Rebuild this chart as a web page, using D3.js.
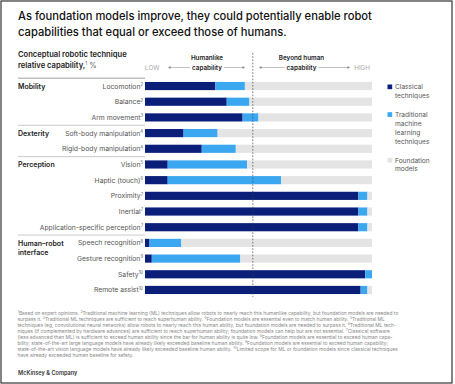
<!DOCTYPE html>
<html>
<head>
<meta charset="utf-8">
<script src="https://cdn.jsdelivr.net/npm/d3@7"></script>
<style>
  body { margin: 0; background: #fff; }
  svg { display: block; font-family: Inter, "Noto Sans", sans-serif; }
</style>
</head>
<body>
<div id="canvas"></div>
<script>
// data (percent of the relative capability scale)
var categories = ['Locomotion', 'Balance', 'Arm movement', 'Soft-body manipulation', 'Rigid-body manipulation',
  'Vision', 'Haptic (touch)', 'Proximity', 'Inertial', 'Application-specific perception',
  'Speech recognition', 'Gesture recognition', 'Safety', 'Remote assist'];
var notes = ['2', '2', '3', '4', '4', '5', '6', '7', '7', '7', '8', '9', '10', '10'];
var groupOf = ['Mobility', 'Mobility', 'Mobility', 'Dexterity', 'Dexterity',
  'Perception', 'Perception', 'Perception', 'Perception', 'Perception',
  'Human\u2013robot interface', 'Human\u2013robot interface', 'Human\u2013robot interface', 'Human\u2013robot interface'];
var classical   = [31, 36, 43, 17, 25, 10, 10, 94, 94, 94, 2, 3, 97, 95];
var traditional = [13, 10, 7, 15, 15, 35, 50, 4, 4, 4, 14, 39, 3, 3];
var foundation  = [56, 54, 50, 68, 60, 55, 40, 2, 2, 2, 84, 58, 0, 2];
var seriesNames = [['Classical', 'techniques'], ['Traditional', 'machine', 'learning', 'techniques'], ['Foundation', 'models']];
var humanLevel = 47.5;

var colors = ['#0b1f7a', '#3aa7f0', '#e4e4e4'];

var W = 455, H = 384;
var svg = d3.select('#canvas').append('svg').attr('width', W).attr('height', H);

svg.append('rect').attr('x', 1).attr('y', 1).attr('width', 451).attr('height', 382)
  .attr('fill', 'none').attr('stroke', '#333').attr('stroke-width', 1.2);

// title
var title = ['As foundation models improve, they could potentially enable robot',
  'capabilities that equal or exceed those of humans.'];
svg.selectAll('.title').data(title).enter().append('text')
  .attr('x', 18).attr('y', function(d, i){ return 20 + i * 15.5; })
  .attr('font-size', 11.2).attr('font-weight', 500).attr('fill', '#111')
  .text(function(d){ return d; });

// scales
var x = d3.scaleLinear().domain([0, 100]).range([145, 372]);
var y = d3.scaleBand().domain(categories).range([78.2, 297.8]).paddingInner(0.48).paddingOuter(0.24);
var step = y.step();
function cy(c){ return y(c) + y.bandwidth() / 2; }

// axis title
var at = svg.append('g').attr('font-size', 7.6).attr('font-weight', 600).attr('fill', '#222');
at.append('text').attr('x', 18).attr('y', 57).text('Conceptual robotic technique');
var t2 = at.append('text').attr('x', 18).attr('y', 67.5);
t2.append('tspan').text('relative capability,');
t2.append('tspan').attr('dy', -2.5).attr('font-size', 4.6).attr('font-weight', 400).attr('fill', '#666').text('1');
t2.append('tspan').attr('dy', 2.5).attr('font-weight', 400).attr('fill', '#666').text(' %');

// capability header
var hd = svg.append('g');
var lowHigh = [{t: 'LOW', x: 145, a: 'start'}, {t: 'HIGH', x: 370, a: 'end'}];
hd.selectAll('.lh').data(lowHigh).enter().append('text')
  .attr('x', function(d){ return d.x; }).attr('y', 70)
  .attr('text-anchor', function(d){ return d.a; })
  .attr('font-size', 6.3).attr('fill', '#aaa').text(function(d){ return d.t; });
var heads = [{c: 207, t: 'Humanlike', l: 168, r: 245}, {c: 301.5, t: 'Beyond human', l: 259, r: 350}];
heads.forEach(function(h){
  hd.append('text').attr('x', h.c).attr('y', 60).attr('text-anchor', 'middle')
    .attr('font-size', 6.3).attr('font-weight', 600).attr('fill', '#222').text(h.t);
  hd.append('text').attr('x', h.c).attr('y', 69.5).attr('text-anchor', 'middle')
    .attr('font-size', 6.3).attr('font-weight', 600).attr('fill', '#222').text('capability');
  hd.append('line').attr('x1', h.l + 2).attr('x2', h.c - 17).attr('y1', 67.5).attr('y2', 67.5)
    .attr('stroke', '#999').attr('stroke-width', 0.6);
  hd.append('line').attr('x1', h.c + 17).attr('x2', h.r - 2).attr('y1', 67.5).attr('y2', 67.5)
    .attr('stroke', '#999').attr('stroke-width', 0.6);
  hd.append('path').attr('d', 'M' + h.l + ',67.5 l2.5,-1.5 v3 z').attr('fill', '#888');
  hd.append('path').attr('d', 'M' + h.r + ',67.5 l-2.5,-1.5 v3 z').attr('fill', '#888');
});

// group separators and labels
var firstIdx = [];
groupOf.forEach(function(g, i){ if (i === 0 || groupOf[i - 1] !== g) firstIdx.push(i); });
svg.selectAll('.sep').data(firstIdx).enter().append('line')
  .attr('x1', 18).attr('x2', 145)
  .attr('y1', function(i){ return cy(categories[i]) - step / 2; })
  .attr('y2', function(i){ return cy(categories[i]) - step / 2; })
  .attr('stroke', function(i){ return i === 0 ? '#888' : '#bbb'; })
  .attr('stroke-width', 0.8);
var gl = svg.selectAll('.glab').data(firstIdx).enter().append('text')
  .attr('x', 18).attr('y', function(i){ return cy(categories[i]) + 3; })
  .attr('font-size', 7).attr('font-weight', 600).attr('fill', '#222');
gl.each(function(i){
  var words = groupOf[i] === 'Human\u2013robot interface' ? ['Human\u2013robot', 'interface'] : [groupOf[i]];
  d3.select(this).selectAll('tspan').data(words).enter().append('tspan')
    .attr('x', 18).attr('dy', function(d, k){ return k ? 9 : 0; }).text(function(d){ return d; });
});

// row labels
var rl = svg.selectAll('.rlab').data(categories).enter().append('text')
  .attr('x', 143).attr('y', function(d){ return cy(d) + 2.5; })
  .attr('text-anchor', 'end').attr('font-size', 6.8).attr('fill', '#555');
rl.append('tspan').text(function(d){ return d; });
rl.append('tspan').attr('dy', -2.6).attr('font-size', 4.2).text(function(d, i){ return notes[i]; });

// stacked bars
var rows = categories.map(function(c, i){
  return {cat: c, vals: [classical[i], traditional[i], foundation[i]]};
});
var stack = d3.stack().keys([0, 1, 2]).value(function(d, k){ return d.vals[k]; });
var layers = stack(rows);
svg.selectAll('.layer').data(layers).enter().append('g')
  .attr('fill', function(d, k){ return colors[k]; })
  .selectAll('rect').data(function(d){ return d; }).enter().append('rect')
  .attr('x', function(d){ return x(d[0]); })
  .attr('width', function(d){ return Math.max(0, x(d[1]) - x(d[0])); })
  .attr('y', function(d){ return y(d.data.cat); })
  .attr('height', y.bandwidth());

// human capability threshold
svg.append('line').attr('x1', x(humanLevel)).attr('x2', x(humanLevel))
  .attr('y1', 53).attr('y2', 297)
  .attr('stroke', '#444').attr('stroke-width', 0.7).attr('stroke-dasharray', '1.6,1.6');

// legend
var legTop = [84.5, 112.2, 157.8];
var lg = svg.selectAll('.leg').data(seriesNames).enter().append('g')
  .attr('transform', function(d, i){ return 'translate(387.5,' + legTop[i] + ')'; });
lg.append('rect').attr('width', 4.7).attr('height', 4.7).attr('fill', function(d, i){ return colors[i]; });
lg.selectAll('text').data(function(d){ return d; }).enter().append('text')
  .attr('x', 7.5).attr('y', function(d, k){ return 4.7 + k * 9; })
  .attr('font-size', 6.6).attr('fill', '#555').text(function(d){ return d; });

// footnotes
var footnote = [
  '^1^Based on expert opinions. ^2^Traditional machine learning (ML) techniques allow robots to nearly reach this humanlike capability, but foundation models are needed to',
  'surpass it. ^3^Traditional ML techniques are sufficient to reach superhuman ability. ^4^Foundation models are essential even to match human ability. ^5^Traditional ML',
  'techniques (eg, convolutional neural networks) allow robots to nearly reach this human ability, but foundation models are needed to surpass it. ^6^Traditional ML tech-',
  'niques (if complemented by hardware advances) are sufficient to reach superhuman ability; foundation models can help but are not essential. ^7^Classical software',
  '(less advanced than ML) is sufficient to exceed human ability since the bar for human ability is quite low. ^8^Foundation models are essential to exceed human capa-',
  'bility; state-of-the-art large language models have already likely exceeded baseline human ability. ^9^Foundation models are essential to exceed human capability;',
  'state-of-the-art vision language models have already likely exceeded baseline human ability. ^10^Limited scope for ML or foundation models since classical techniques',
  'have already exceeded human baseline for safety.'
];
var fn = svg.append('g').attr('font-size', 4.9).attr('fill', '#888');
footnote.forEach(function(line, i){
  var t = fn.append('text').attr('x', 17.5).attr('y', 315 + i * 6);
  var parts = line.split('^');
  var up = false;
  parts.forEach(function(p, k){
    if (k > 0) up = !up;
    if (!p) return;
    var s = t.append('tspan').text(p);
    if (up) s.attr('dy', -1.8).attr('font-size', 3.4);
    else if (k > 0) s.attr('dy', 1.8);
  });
  var len = t.node().getComputedTextLength();
  if (len > 414) t.attr('textLength', 414).attr('lengthAdjust', 'spacingAndGlyphs');
});

svg.append('text').attr('x', 18).attr('y', 375).attr('font-size', 5.6).attr('font-weight', 600)
  .attr('fill', '#333').text('McKinsey & Company');
</script>
</body>
</html>
